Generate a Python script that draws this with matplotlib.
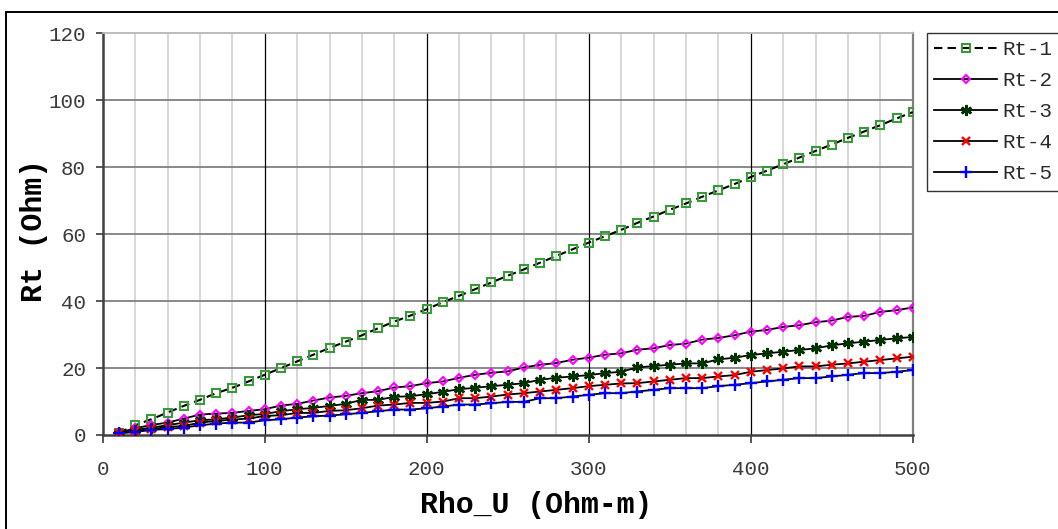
import matplotlib
matplotlib.use("Agg")
import matplotlib.pyplot as plt
from matplotlib.patches import Rectangle

# Rho_U values (Ohm-m)
rho_u = [10, 20, 30, 40, 50, 60, 70, 80, 90, 100,
         110, 120, 130, 140, 150, 160, 170, 180, 190, 200,
         210, 220, 230, 240, 250, 260, 270, 280, 290, 300,
         310, 320, 330, 340, 350, 360, 370, 380, 390, 400,
         410, 420, 430, 440, 450, 460, 470, 480, 490, 500]

rt1 = [0.7, 2.9, 4.7, 6.7, 8.7, 10.5, 12.5, 14.1, 16.0, 18.0,
       20.0, 22.0, 24.0, 26.0, 27.9, 29.8, 31.9, 33.9, 35.7, 37.6,
       39.7, 41.6, 43.6, 45.6, 47.6, 49.5, 51.5, 53.5, 55.5, 57.5,
       59.4, 61.3, 63.4, 65.3, 67.3, 69.2, 71.2, 73.1, 75.0, 77.1,
       79.0, 80.9, 82.9, 84.9, 86.8, 88.8, 90.7, 92.6, 94.6, 96.5]
rt2 = [0.7, 2.0, 3.0, 3.7, 4.9, 6.1, 6.4, 6.6, 7.2, 7.7,
       8.8, 9.3, 10.3, 11.2, 11.7, 12.5, 13.1, 14.2, 14.6, 15.5,
       16.0, 17.1, 18.0, 18.6, 19.0, 20.2, 21.0, 21.5, 22.5, 23.1,
       24.0, 24.4, 25.5, 25.9, 26.9, 27.3, 28.5, 29.0, 29.8, 30.9,
       31.4, 32.3, 32.8, 33.7, 34.2, 35.3, 35.6, 36.8, 37.3, 38.1]
rt3 = [0.7, 1.5, 2.2, 2.9, 3.7, 4.4, 4.7, 5.2, 5.9, 6.3,
       7.1, 7.7, 8.1, 8.7, 9.3, 10.5, 10.5, 11.4, 11.6, 12.2,
       12.9, 13.7, 14.1, 14.6, 15.0, 15.5, 16.5, 17.1, 17.5, 17.9,
       18.5, 18.9, 20.2, 20.6, 21.0, 21.4, 21.4, 22.6, 23.1, 23.9,
       24.4, 24.9, 25.4, 25.9, 26.8, 27.4, 27.9, 28.4, 28.9, 29.3]
rt4 = [0.6, 1.2, 1.7, 2.4, 2.7, 3.7, 4.2, 4.6, 4.9, 5.7,
       5.9, 6.6, 6.6, 7.2, 7.4, 8.0, 8.8, 9.1, 9.6, 9.6,
       10.0, 11.0, 11.0, 11.5, 12.1, 12.5, 13.0, 13.5, 14.0, 14.6,
       15.0, 15.4, 15.5, 16.0, 16.5, 17.0, 17.0, 17.5, 17.9, 18.9,
       19.4, 19.9, 20.5, 20.5, 21.0, 21.4, 21.9, 22.4, 22.9, 23.4]
rt5 = [0.5, 0.9, 1.5, 1.8, 2.2, 2.9, 3.4, 3.7, 3.7, 4.4,
       4.7, 5.2, 5.6, 5.8, 6.2, 6.6, 7.1, 7.6, 7.6, 8.0,
       8.5, 9.1, 9.1, 9.5, 9.9, 9.9, 11.0, 11.0, 11.5, 12.0,
       12.5, 12.5, 13.0, 13.5, 14.0, 14.0, 14.0, 14.6, 15.0, 15.5,
       16.0, 16.5, 17.0, 17.0, 17.5, 18.0, 18.5, 18.5, 18.9, 19.4]

labels = ["Rt-1", "Rt-2", "Rt-3", "Rt-4", "Rt-5"]
x_ticks = [0, 100, 200, 300, 400, 500]
y_ticks = [0, 20, 40, 60, 80, 100, 120]

plt.rcParams["font.family"] = ["Liberation Mono", "DejaVu Sans Mono"]

W, H = 1058, 529
fig = plt.figure(figsize=(W / 100, H / 100), dpi=100)
fig.patch.set_facecolor("white")

# outer chart border (right/bottom edges fall outside the picture)
fig.patches.append(Rectangle((6 / W, -0.05), 1.2, 1 - 12 / H + 0.05,
                             transform=fig.transFigure, fill=False,
                             edgecolor="black", linewidth=1.4, zorder=0))

ax = fig.add_axes([102.7 / W, 1 - 435 / H, (912.7 - 102.7) / W, (435 - 33.5) / H])
ax.set_xlim(0, 500)
ax.set_ylim(0, 120)

# grid: light minor verticals, black major verticals, gray horizontals
for xv in range(20, 500, 20):
    if xv % 100:
        ax.axvline(xv, color="#d4d4d4", lw=1.3, zorder=1)
for xv in x_ticks[1:-1]:
    ax.axvline(xv, color="black", lw=0.9, zorder=1.5)
for yv in y_ticks[1:-1]:
    ax.axhline(yv, color="#808080", lw=1.3, zorder=1.2)

series = [rt1, rt2, rt3, rt4, rt5]
styles = [
    dict(marker="s", mec="#3a9a3a", ms=5.5, mfc="none", mew=1.5),
    dict(marker="D", mec="#ff00ff", ms=4.2, mfc="none", mew=1.5),
    dict(marker=(6, 2, 0), mec="#003300", ms=8, mew=1.8),
    dict(marker="x", mec="#ff0000", ms=6.2, mew=1.7),
    dict(marker="+", mec="#0000ff", ms=8, mew=1.7),
]
for k, (ys, lab, st) in enumerate(zip(series, labels, styles)):
    lw = 1.5 if k == 0 else 1.3
    line, = ax.plot(rho_u, ys, color="black", lw=lw, label=lab, zorder=3, **st)
    if k == 0:
        line.set_dashes((4, 2.5))

ax.set_xticks(x_ticks)
ax.set_yticks(y_ticks)
ax.tick_params(axis="both", direction="out", colors="#3a3a3a", labelsize=15,
               width=1.2)
ax.tick_params(axis="y", length=5, pad=7)
ax.tick_params(axis="x", length=6, pad=12)
for side, col, lw in [("left", "#404040", 1.8), ("bottom", "#404040", 1.8),
                      ("right", "#808080", 1.6), ("top", "#b8b8b8", 1.3)]:
    ax.spines[side].set_color(col)
    ax.spines[side].set_linewidth(lw)

fig.text(536 / W, 1 - 513 / H, "Rho_U (Ohm-m)", ha="center", va="baseline",
         fontsize=21.5, fontweight="bold")
fig.text(34 / W, 1 - 231 / H, "Rt (Ohm)", ha="center", va="center",
         rotation=90, fontsize=21.5, fontweight="bold")

leg = fig.legend(loc="upper left", bbox_to_anchor=(927 / W, 1 - 32.7 / H),
                 bbox_transform=fig.transFigure, borderaxespad=0,
                 fontsize=15, frameon=True, fancybox=False, handlelength=3,
                 handletextpad=0.25, labelspacing=0.58, borderpad=0.35)
leg.get_frame().set_edgecolor("black")
leg.get_frame().set_linewidth(1.0)
for t in leg.get_texts():
    t.set_color("#2a2a2a")

fig.savefig("out.png", dpi=100)
